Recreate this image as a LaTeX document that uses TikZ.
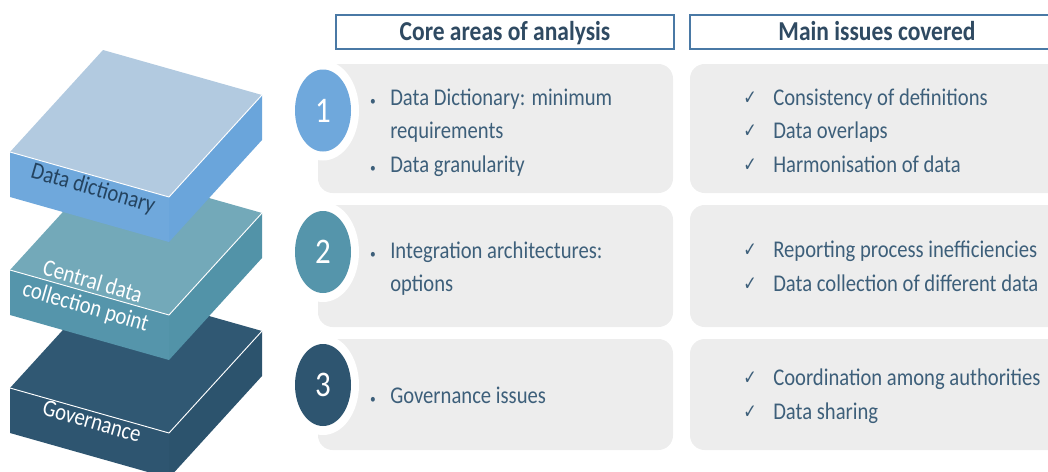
\documentclass[tikz,border=0pt]{standalone}
\usepackage{fontspec}
\setmainfont{Carlito}[FakeStretch=0.86]
\newfontfamily\djv{DejaVu Sans}[FakeStretch=0.8]
\usetikzlibrary{shapes.geometric}
\definecolor{boxgrey}{HTML}{EDEDED}
\definecolor{txt}{HTML}{3D5F7A}
\definecolor{hdrtxt}{HTML}{2F4A62}
\definecolor{hdrline}{HTML}{4A79A5}
\definecolor{ddtext}{HTML}{24435F}
\definecolor{cA}{HTML}{6FA8DC}
\definecolor{cAtop}{HTML}{B2CAE0}
\definecolor{cAr}{HTML}{6AA5DB}
\definecolor{cB}{HTML}{5595AB}
\definecolor{cBtop}{HTML}{73A9B9}
\definecolor{cBr}{HTML}{5293A8}
\definecolor{cC}{HTML}{2E5570}
\definecolor{cCtop}{HTML}{305873}
\definecolor{cCr}{HTML}{2C536D}
\newcommand\mySlab[4]{%
  \fill[#2] (10,#1) -- (103,#1-102) -- (262,#1-57) -- (169,#1+45) -- cycle;
  \fill[#3] (10,#1) -- (169,#1+45) -- (169,#1+90) -- (10,#1+45) -- cycle;
  \fill[#4] (169,#1+45) -- (262,#1-57) -- (262,#1-12) -- (169,#1+90) -- cycle;
  \draw[white,line width=0.7pt,line join=round] (10,#1) -- (169,#1+45) -- (262,#1-57);
}
\begin{document}
\begin{tikzpicture}[x=0.75pt,y=-0.75pt,
  greybox/.style={fill=boxgrey,draw=none,rounded corners=11pt,inner sep=0pt},
  hdr/.style={draw=hdrline,line width=0.8pt,fill=white,text=hdrtxt,inner sep=0pt,
    font=\fontsize{20.5}{24}\selectfont\bfseries,text height=13.2pt,text depth=0pt,minimum height=25.5pt},
  halo/.style={ellipse,fill=white,inner sep=0pt,minimum width=54pt,minimum height=75pt},
  num/.style={ellipse,inner sep=0pt,minimum width=42pt,minimum height=61.5pt,text=white,
    font=\fontsize{27}{30}\selectfont},
  item/.style={anchor=base west,inner sep=0pt,text=txt,font=\fontsize{18}{22}\selectfont},
  bul/.style={anchor=base,inner sep=0pt,text=txt,font=\fontsize{10}{10}\selectfont},
  chk/.style={anchor=base,inner sep=0pt,text=txt,font=\djv\fontsize{15}{15}\selectfont},
  slabtxt/.style={inner sep=0pt,font=\fontsize{18}{19}\selectfont,align=center}
]
\useasboundingbox (0,0) rectangle (1048,471);
\clip (0,0) rectangle (1048,471);

% stacked layers
\mySlab{388}{cCtop}{cC}{cCr}
\mySlab{270}{cBtop}{cB}{cBr}
\mySlab{152}{cAtop}{cA}{cAr}
\node[slabtxt,text=ddtext,rotate=-16] (sl1) at (93,189) {Data dictionary};
\node[slabtxt,text=white,rotate=-16] (sl2) at (89,295) {Central data\\collection point};
\node[slabtxt,text=white,rotate=-16] (sl3) at (92,421) {Governance};

% headers
\node[hdr,minimum width=253.5pt] (h1) at (505,32) {Core areas of analysis};
\node[hdr,minimum width=280.5pt] (h2) at (877,32) {Main issues covered};

% grey boxes
\node[greybox,minimum width=266.25pt,minimum height=96.75pt] (L1) at (495.5,128.5) {};
\node[greybox,minimum width=266.25pt,minimum height=91.5pt] (L2) at (495.5,266) {};
\node[greybox,minimum width=266.25pt,minimum height=83.25pt] (L3) at (495.5,394.5) {};
\node[greybox,minimum width=280.5pt,minimum height=96.75pt] (R1) at (877,128.5) {};
\node[greybox,minimum width=280.5pt,minimum height=91.5pt] (R2) at (877,266) {};
\node[greybox,minimum width=280.5pt,minimum height=83.25pt] (R3) at (877,394.5) {};

% number circles
\node[halo] (halo1) at (323,110.5) {};
\node[halo] (halo2) at (323,252) {};
\node[halo] (halo3) at (323,385) {};
\node[num,fill=cA] (n1) at (323,110.5) {1};
\node[num,fill=cB] (n2) at (323,252) {2};
\node[num,fill=cC] (n3) at (323,385) {3};

% left column texts
\node[bul] (b11) at (373,105) {•};
\node[item] (a11) at (390,105) {Data Dictionary: minimum};
\node[item] (a12) at (390,138.5) {requirements};
\node[bul] (b13) at (373,172) {•};
\node[item] (a13) at (390,172) {Data granularity};
\node[bul] (b21) at (373,258) {•};
\node[item] (a21) at (390,258) {Integration architectures:};
\node[item] (a22) at (390,291.5) {options};
\node[bul] (b31) at (373,403) {•};
\node[item] (a31) at (390,403) {Governance issues};

% right column texts
\node[chk] (k11) at (750,104) {✓};
\node[item] (r11) at (773,105) {Consistency of definitions};
\node[chk] (k12) at (750,137.5) {✓};
\node[item] (r12) at (773,138.5) {Data overlaps};
\node[chk] (k13) at (750,171) {✓};
\node[item] (r13) at (773,172) {Harmonisation of data};
\node[chk] (k21) at (750,256) {✓};
\node[item] (r21) at (773,257) {Reporting process inefficiencies};
\node[chk] (k22) at (750,290) {✓};
\node[item] (r22) at (773,291) {Data collection of different data};
\node[chk] (k31) at (750,384) {✓};
\node[item] (r31) at (773,385) {Coordination among authorities};
\node[chk] (k32) at (750,418) {✓};
\node[item] (r32) at (773,419) {Data sharing};
\end{tikzpicture}
\end{document}
